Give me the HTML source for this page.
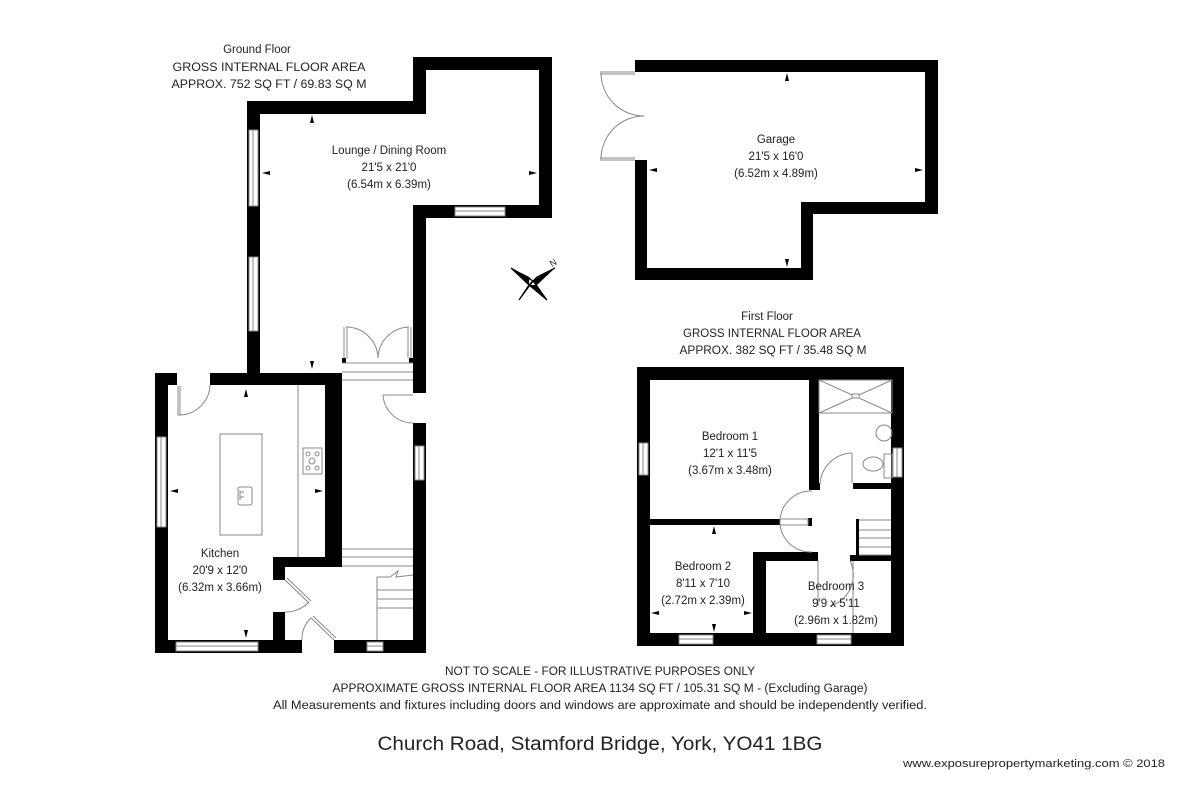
<!DOCTYPE html>
<html><head><meta charset="utf-8"><style>
html,body{margin:0;padding:0;background:#fff;}
svg{display:block;}
text{font-family:"Liberation Sans",sans-serif;fill:#222;}
</style></head><body>
<svg width="1200" height="800" viewBox="0 0 1200 800" xmlns="http://www.w3.org/2000/svg">
<rect width="1200" height="800" fill="#fff"/>

<!-- ===== GROUND FLOOR ===== -->
<g fill="#000">
  <rect x="247" y="101" width="13" height="284"/>
  <rect x="247" y="101" width="179" height="13"/>
  <rect x="413" y="57" width="13" height="57"/>
  <rect x="413" y="57" width="139" height="13"/>
  <rect x="539" y="57" width="13" height="161"/>
  <rect x="413" y="205" width="139" height="13"/>
  <rect x="413" y="205" width="13" height="188"/>
  <rect x="413" y="423" width="13" height="230"/>
  <rect x="155" y="373" width="22" height="12"/>
  <rect x="210" y="373" width="132" height="12"/>
  <rect x="155" y="373" width="13" height="280"/>
  <rect x="325" y="373" width="17" height="194"/>
  <rect x="273" y="557" width="69" height="10"/>
  <rect x="273" y="557" width="12" height="23"/>
  <rect x="273" y="612" width="12" height="40"/>
  <rect x="155" y="640" width="147" height="13"/>
  <rect x="334" y="640" width="92" height="13"/>
  <rect x="342" y="358" width="4" height="5"/>
  <rect x="409" y="358" width="4" height="5"/>
</g>
<g fill="#fff" stroke="#888" stroke-width="1">
  <rect x="249" y="130" width="9" height="76"/>
  <rect x="249" y="257" width="9" height="74"/>
  <rect x="455" y="207" width="50" height="9"/>
  <rect x="157" y="437" width="9" height="90"/>
  <rect x="415" y="446" width="9" height="34"/>
  <rect x="176" y="642" width="82" height="9"/>
  <rect x="367" y="642" width="16" height="9"/>
</g>
<g fill="none" stroke="#888" stroke-width="1">
  <line x1="253" y1="130" x2="253" y2="206"/><line x1="253" y1="257" x2="253" y2="331"/>
  <line x1="455" y1="211" x2="505" y2="211"/><line x1="161" y1="437" x2="161" y2="527"/>
  <line x1="419" y1="446" x2="419" y2="480"/><line x1="176" y1="646" x2="258" y2="646"/>
  <line x1="367" y1="646" x2="383" y2="646"/>
  <line x1="344" y1="327" x2="344" y2="358"/><line x1="347" y1="327" x2="347" y2="358"/>
  <line x1="408" y1="327" x2="408" y2="358"/><line x1="411" y1="327" x2="411" y2="358"/>
  <path d="M346,327 A32,32 0 0 1 378,358"/>
  <path d="M409,327 A32,32 0 0 0 378,358"/>
  <line x1="342" y1="363" x2="413" y2="363"/><line x1="342" y1="372" x2="413" y2="372"/><line x1="342" y1="380" x2="413" y2="380"/>
  <line x1="383" y1="395" x2="413" y2="395"/>
  <path d="M383,395 A30,30 0 0 0 413,423"/>
  <line x1="178" y1="386" x2="178" y2="415"/><line x1="180" y1="386" x2="180" y2="415"/>
  <path d="M178,415 A31,31 0 0 0 210,385"/>
  <line x1="298" y1="385" x2="298" y2="557"/>
  <rect x="220" y="434" width="42" height="101"/>
  <rect x="238" y="487" width="14" height="18" rx="2"/>
  <line x1="240" y1="492" x2="244" y2="492"/><line x1="240" y1="497" x2="244" y2="497"/><line x1="240" y1="490" x2="240" y2="500"/>
  <rect x="303" y="448" width="19" height="26"/>
  <circle cx="308" cy="454" r="2"/><circle cx="317" cy="454" r="2"/><circle cx="312" cy="461" r="3"/><circle cx="308" cy="468" r="2"/><circle cx="317" cy="468" r="2"/>
  <line x1="342" y1="549" x2="413" y2="549"/><line x1="342" y1="557" x2="413" y2="557"/><line x1="342" y1="566" x2="413" y2="566"/>
  <line x1="377" y1="577" x2="377" y2="640"/>
  <line x1="377" y1="577" x2="390" y2="577"/><path d="M390,577 L398,571 L396,577 L413,575"/>
  <line x1="377" y1="590" x2="413" y2="590"/><line x1="377" y1="599" x2="413" y2="599"/><line x1="377" y1="608" x2="413" y2="608"/>
  <line x1="285" y1="580" x2="309" y2="603"/><line x1="287" y1="578" x2="311" y2="601"/>
  <path d="M309,602 A32,32 0 0 1 285,612"/>
  <line x1="311" y1="618" x2="334" y2="640"/><line x1="313" y1="616" x2="336" y2="638"/>
  <path d="M311,618 A28,28 0 0 0 302,640"/>
</g>
<g fill="#000">
  <polygon points="312,115 310,123 314,123"/><polygon points="312,369 310,361 314,361"/>
  <polygon points="262,173 270,171 270,175"/><polygon points="537,173 529,171 529,175"/>
  <polygon points="246,389 244,397 248,397"/><polygon points="246,638 244,630 248,630"/>
  <polygon points="170,491 178,489 178,493"/><polygon points="323,491 315,489 315,493"/>
</g>

<!-- compass -->
<g transform="translate(533,281)">
  <polygon points="-22,-13 -4,-4 0,0" fill="#000"/><polygon points="-22,-13 0,0 -4,4" fill="#fff" stroke="#000" stroke-width="1.2"/>
  <polygon points="22,-13 4,-4 0,0" fill="#fff" stroke="#000" stroke-width="1.2"/><polygon points="22,-13 0,0 4,4" fill="#000"/>
  <polygon points="14,19 4,4 0,0" fill="#000"/><polygon points="14,19 0,0 -4,4" fill="#fff" stroke="#000" stroke-width="1.2"/>
  <polygon points="-14,19 -4,4 0,0" fill="#fff" stroke="#000" stroke-width="1.2"/><polygon points="-14,19 0,0 4,-4" fill="#000"/>
  <polygon points="-22,-13 -4,-4 -4,4" fill="#000"/>
  <polygon points="14,19 4,4 -4,4" fill="#000"/>
  <text x="17" y="-15" font-size="9" transform="rotate(-30 20 -18)">N</text>
</g>

<!-- ===== GARAGE ===== -->
<g fill="#000">
  <rect x="635" y="60" width="303" height="12"/>
  <rect x="635" y="60" width="12" height="12"/>
  <rect x="635" y="160" width="12" height="120"/>
  <rect x="635" y="268" width="178" height="12"/>
  <rect x="801" y="202" width="12" height="78"/>
  <rect x="801" y="202" width="137" height="12"/>
  <rect x="925" y="60" width="13" height="154"/>
</g>
<g fill="none" stroke="#888" stroke-width="1">
  <line x1="600" y1="72" x2="635" y2="72"/><line x1="600" y1="74" x2="635" y2="74"/>
  <line x1="600" y1="158" x2="635" y2="158"/><line x1="600" y1="160" x2="635" y2="160"/>
  <path d="M601,73 A43,43 0 0 0 644,116"/><path d="M601,159 A43,43 0 0 1 644,116"/>
</g>
<g fill="#000">
  <polygon points="787,73 785,81 789,81"/><polygon points="787,267 785,259 789,259"/>
  <polygon points="649,170 657,168 657,172"/><polygon points="923,170 915,168 915,172"/>
</g>

<!-- ===== FIRST FLOOR ===== -->
<g fill="#000">
  <rect x="637" y="367" width="267" height="13"/>
  <rect x="637" y="367" width="13" height="279"/>
  <rect x="891" y="367" width="13" height="279"/>
  <rect x="637" y="633" width="267" height="13"/>
  <rect x="809" y="380" width="10" height="110"/>
  <rect x="809" y="483" width="11" height="7"/>
  <rect x="853" y="483" width="39" height="6"/>
  <rect x="650" y="519" width="130" height="6"/>
  <rect x="808" y="518" width="4" height="8"/>
  <rect x="856" y="519" width="3" height="39"/>
  <rect x="753" y="552" width="65" height="9"/>
  <rect x="850" y="555" width="42" height="6"/>
  <rect x="753" y="552" width="13" height="94"/>
</g>
<g fill="#fff" stroke="#888" stroke-width="1">
  <rect x="639" y="443" width="9" height="32"/>
  <rect x="893" y="448" width="9" height="29"/>
  <rect x="679" y="635" width="34" height="9"/>
  <rect x="817" y="635" width="34" height="9"/>
  <rect x="780" y="519" width="28" height="6"/>
</g>
<g fill="none" stroke="#888" stroke-width="1">
  <line x1="643" y1="443" x2="643" y2="475"/><line x1="897" y1="448" x2="897" y2="477"/>
  <line x1="679" y1="639" x2="713" y2="639"/><line x1="817" y1="639" x2="851" y2="639"/>
  <rect x="819" y="380" width="73" height="33"/>
  <line x1="819" y1="380" x2="892" y2="413"/><line x1="892" y1="380" x2="819" y2="413"/>
  <rect x="852" y="394" width="7" height="4" fill="#fff"/>
  <ellipse cx="884" cy="433" rx="8" ry="8"/>
  <rect x="884" y="454" width="8" height="24"/>
  <ellipse cx="873" cy="464" rx="10" ry="7"/>
  <line x1="852" y1="453" x2="852" y2="483"/>
  <path d="M852,453 A33,33 0 0 0 820,484"/>
  <path d="M812,491 A31,31 0 0 0 780,522"/>
  <path d="M780,524 A31,31 0 0 0 812,552"/>
  <line x1="818" y1="561" x2="818" y2="606"/>
  <path d="M850,561 A32,32 0 0 1 830,606"/>
  <line x1="853" y1="561" x2="853" y2="633"/>
  <line x1="859" y1="520" x2="891" y2="520"/><line x1="859" y1="530" x2="891" y2="530"/>
  <line x1="859" y1="538" x2="891" y2="538"/><line x1="859" y1="547" x2="891" y2="547"/>
  <line x1="859" y1="555" x2="891" y2="555"/>
</g>
<g fill="#000">
  <polygon points="714,526 712,534 716,534"/><polygon points="714,632 712,624 716,624"/>
  <polygon points="651,613 659,611 659,615"/><polygon points="752,613 744,611 744,615"/>
</g>

<!-- ===== TEXT ===== -->
<g font-size="11.5" text-anchor="middle">
  <text x="257" y="53">Ground Floor</text>
  <text x="269" y="71" textLength="193" lengthAdjust="spacingAndGlyphs">GROSS INTERNAL FLOOR AREA</text>
  <text x="269" y="88" textLength="195" lengthAdjust="spacingAndGlyphs">APPROX. 752 SQ FT / 69.83 SQ M</text>

  <text x="389" y="154">Lounge / Dining Room</text>
  <text x="389" y="171">21'5 x 21'0</text>
  <text x="389" y="188">(6.54m x 6.39m)</text>

  <text x="220" y="557">Kitchen</text>
  <text x="220" y="574">20'9 x 12'0</text>
  <text x="220" y="591">(6.32m x 3.66m)</text>

  <text x="776" y="143">Garage</text>
  <text x="776" y="160">21'5 x 16'0</text>
  <text x="776" y="177">(6.52m x 4.89m)</text>

  <text x="767" y="320">First Floor</text>
  <text x="772" y="337" textLength="178" lengthAdjust="spacingAndGlyphs">GROSS INTERNAL FLOOR AREA</text>
  <text x="773" y="354" textLength="187" lengthAdjust="spacingAndGlyphs">APPROX. 382 SQ FT / 35.48 SQ M</text>

  <text x="730" y="440">Bedroom 1</text>
  <text x="730" y="457">12'1 x 11'5</text>
  <text x="730" y="474">(3.67m x 3.48m)</text>

  <text x="703" y="570">Bedroom 2</text>
  <text x="703" y="587">8'11 x 7'10</text>
  <text x="703" y="604">(2.72m x 2.39m)</text>

  <text x="836" y="590">Bedroom 3</text>
  <text x="836" y="607">9'9 x 5'11</text>
  <text x="836" y="624">(2.96m x 1.82m)</text>

  <text x="600" y="675" textLength="310" lengthAdjust="spacingAndGlyphs">NOT TO SCALE - FOR ILLUSTRATIVE PURPOSES ONLY</text>
  <text x="600" y="692" textLength="535" lengthAdjust="spacingAndGlyphs">APPROXIMATE GROSS INTERNAL FLOOR AREA 1134 SQ FT / 105.31 SQ M - (Excluding Garage)</text>
  <text x="600" y="709" textLength="654" lengthAdjust="spacingAndGlyphs">All Measurements and fixtures including doors and windows are approximate and should be independently verified.</text>
</g>
<text x="600" y="750" font-size="19" text-anchor="middle" textLength="445" lengthAdjust="spacingAndGlyphs">Church Road, Stamford Bridge, York, YO41 1BG</text>
<text x="903" y="767" font-size="11" textLength="262" lengthAdjust="spacingAndGlyphs">www.exposurepropertymarketing.com © 2018</text>
</svg>
</body></html>
